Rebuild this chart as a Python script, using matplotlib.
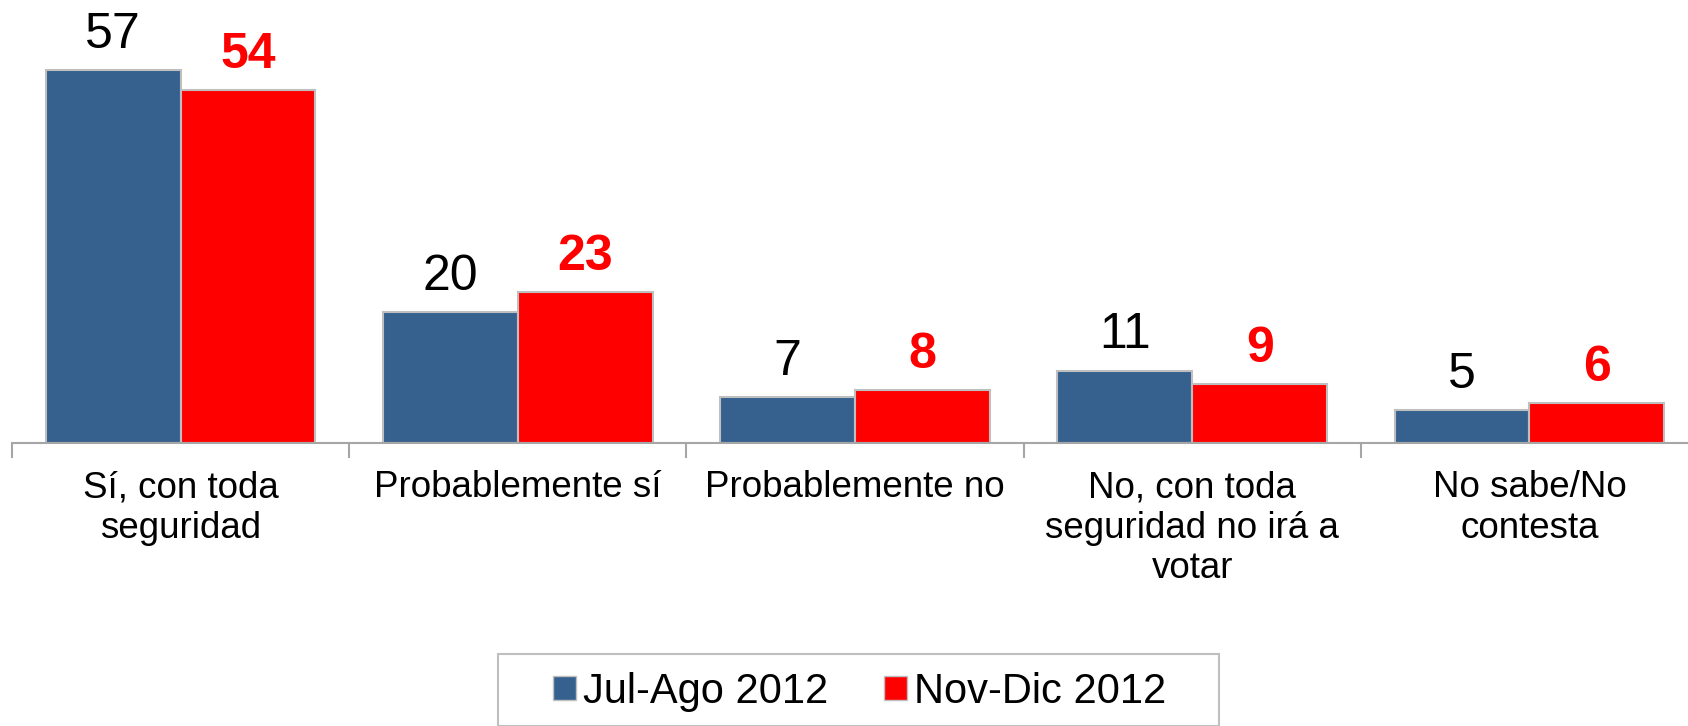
import numpy as np
import matplotlib.pyplot as plt
from matplotlib.patches import Patch, Rectangle

# respuestas y porcentajes por periodo
categorias = ['Sí, con toda\nseguridad', 'Probablemente sí', 'Probablemente no',
              'No, con toda\nseguridad no irá a\nvotar', 'No sabe/No\ncontesta']
jul_ago = [57, 20, 7, 11, 5]
nov_dic = [54, 23, 8, 9, 6]
series = ['Jul-Ago 2012', 'Nov-Dic 2012']

azul = '#36618F'
rojo = '#FF0000'
borde = '#BFBFBF'

plt.rcParams['font.family'] = ['Liberation Sans', 'DejaVu Sans']

fig = plt.figure(figsize=(16.88, 7.26), dpi=100)
W, H = 1688, 726
ax = fig.add_axes([12 / W, 1 - 442.5 / H, 1686 / W, 442.5 / H])

x = np.arange(len(categorias))
ancho = 0.4
b1 = ax.bar(x - ancho / 2, jul_ago, ancho, color=azul, edgecolor=borde, linewidth=1.5)
b2 = ax.bar(x + ancho / 2, nov_dic, ancho, color=rojo, edgecolor=borde, linewidth=1.5)

# etiquetas de valor encima de cada barra
for rect, v in zip(b1, jul_ago):
    ax.annotate(str(v), (rect.get_x() + rect.get_width() / 2, v), xytext=(0, 16),
                textcoords='offset points', ha='center', va='baseline',
                fontsize=36, color='black')
for rect, v in zip(b2, nov_dic):
    ax.annotate(str(v), (rect.get_x() + rect.get_width() / 2, v), xytext=(0, 16),
                textcoords='offset points', ha='center', va='baseline',
                fontsize=36, color=rojo, fontweight='bold')

ax.set_xlim(-0.5, len(categorias) - 0.5)
ax.set_ylim(0, 67.8)

for s in ['top', 'right', 'left']:
    ax.spines[s].set_visible(False)
ax.spines['bottom'].set_color('#A6A6A6')
ax.spines['bottom'].set_linewidth(1.5)
ax.set_yticks([])

# marcas entre categorias, nombres centrados
ax.set_xticks(np.arange(len(categorias) + 1) - 0.5)
ax.set_xticklabels([])
ax.tick_params(axis='x', which='major', length=11, width=1.5, color='#A6A6A6')
ax.set_xticks(x, minor=True)
ax.set_xticklabels(categorias, minor=True, fontsize=26.5, linespacing=1.2)
ax.tick_params(axis='x', which='minor', length=0, pad=20)

# marco de la leyenda
fig.add_artist(Rectangle((498 / W, 0), (1219 - 498) / W, 1 - 654 / H,
                         transform=fig.transFigure, facecolor='white',
                         edgecolor='#BFBFBF', linewidth=1.5))

handles = [Patch(facecolor=azul, edgecolor=borde), Patch(facecolor=rojo, edgecolor=borde)]
fs_leg = 30
px = fs_leg * 100 / 72
leg = fig.legend(handles, series, loc='center left', bbox_to_anchor=(553 / W, 1 - 692 / H),
                 ncol=2, fontsize=fs_leg, frameon=False, borderpad=0, borderaxespad=0,
                 handlelength=23 / px, handleheight=21 / px, handletextpad=7 / px,
                 columnspacing=56 / px)

fig.savefig('out.png', dpi=100)
